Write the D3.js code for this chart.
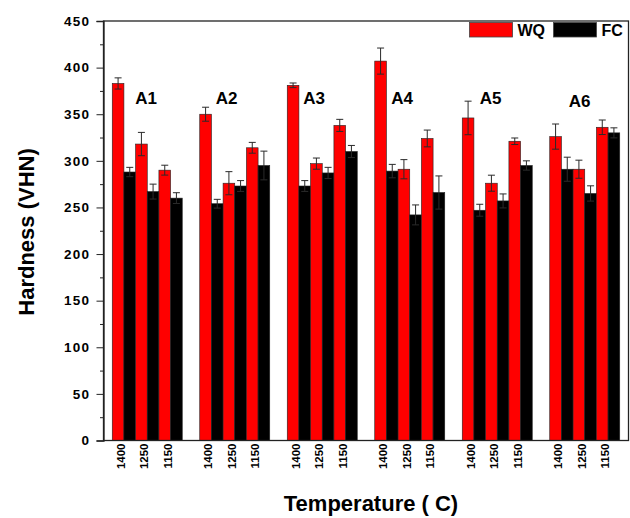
<!DOCTYPE html>
<html>
<head>
<meta charset="utf-8">
<script src="https://cdn.jsdelivr.net/npm/d3@7/dist/d3.min.js"></script>
<style>
  html, body { margin: 0; padding: 0; background: #fff; }
  svg { display: block; font-family: "Liberation Sans", Arial, sans-serif; }
</style>
</head>
<body>
<svg id="chart" width="630" height="518"></svg>
<script>
// ---------- data ----------
const groups = ["A1", "A2", "A3", "A4", "A5", "A6"];
const temps = ["1400", "1250", "1150"];
const series = ["WQ", "FC"];
const wqValues = [
  [383, 318, 290],
  [350, 276, 314],
  [381, 297, 338],
  [407, 291, 324],
  [346, 276, 321],
  [326, 291, 336]
];
const wqErrors = [
  [6, 12.5, 5.3],
  [7.5, 12.4, 5.8],
  [2.5, 6, 6.5],
  [14, 10.3, 9],
  [18, 8.6, 3.5],
  [13.5, 9.7, 7.8]
];
const fcValues = [
  [288, 267, 260],
  [254, 273, 295],
  [273, 287, 310],
  [289, 242, 266],
  [247, 257, 295],
  [291, 265, 330]
];
const fcErrors = [
  [5, 8, 5.8],
  [4.7, 5.8, 15.4],
  [5.8, 6, 6.5],
  [7.2, 10.7, 17.8],
  [6.4, 7.5, 5],
  [12.9, 8.2, 5.4]
];
const yTicks = [0, 50, 100, 150, 200, 250, 300, 350, 400, 450];
const colors = { WQ: "#ff0000", FC: "#000000" };

// ---------- layout ----------
const svg = d3.select("#chart");
const plot = { left: 103.5, top: 21, right: 628.5, bottom: 440.5 };
const labelDx = [23, 16, 16, 16.5, 17.5, 19];

const x0 = d3.scaleBand().domain(groups)
  .range([plot.left, plot.right]).paddingInner(0.2).paddingOuter(0.1);
const x1 = d3.scaleBand().domain(temps).range([0, x0.bandwidth()]).padding(0);
const x2 = d3.scaleBand().domain(series).range([0, x1.bandwidth()]).padding(0);
const y = d3.scaleLinear().domain([0, 450]).range([plot.bottom, plot.top]);

// flatten data
const bars = [];
groups.forEach((g, gi) => {
  temps.forEach((t, ti) => {
    bars.push({ g, t, s: "WQ", v: wqValues[gi][ti], e: wqErrors[gi][ti] });
    bars.push({ g, t, s: "FC", v: fcValues[gi][ti], e: fcErrors[gi][ti] });
  });
});
const bx = d => x0(d.g) + x1(d.t) + x2(d.s);

// bars
svg.append("g").selectAll("rect").data(bars).join("rect")
  .attr("x", bx)
  .attr("y", d => y(d.v))
  .attr("width", x2.bandwidth())
  .attr("height", d => y(0) - y(d.v))
  .attr("fill", d => colors[d.s])
  .attr("stroke", "#222")
  .attr("stroke-width", 0.6);

// error bars
const eg = svg.append("g").attr("stroke", "#2a2a2a").attr("stroke-width", 1).attr("fill", "none");
const capW = 3.5;
bars.forEach(d => {
  const cx = bx(d) + x2.bandwidth() / 2;
  eg.append("line").attr("x1", cx).attr("x2", cx).attr("y1", y(d.v + d.e)).attr("y2", y(d.v - d.e));
  eg.append("line").attr("x1", cx - capW).attr("x2", cx + capW).attr("y1", y(d.v + d.e)).attr("y2", y(d.v + d.e));
  eg.append("line").attr("x1", cx - capW).attr("x2", cx + capW).attr("y1", y(d.v - d.e)).attr("y2", y(d.v - d.e));
});

// frame
svg.append("rect")
  .attr("x", plot.left).attr("y", plot.top)
  .attr("width", plot.right - plot.left).attr("height", plot.bottom - plot.top)
  .attr("fill", "none").attr("stroke", "#222").attr("stroke-width", 1.3);

// y axis
const yMinor = d3.range(25, 450, 50);
svg.append("g").attr("transform", `translate(${plot.left},0)`)
  .call(d3.axisLeft(y).tickValues(yMinor).tickSize(3.5).tickFormat(""))
  .call(g => g.select(".domain").remove())
  .call(g => g.selectAll("line").attr("stroke", "#222"));
svg.append("g").attr("transform", `translate(${plot.left},0)`)
  .call(d3.axisLeft(y).tickValues(yTicks).tickSize(7).tickPadding(6.3))
  .call(g => g.select(".domain").attr("stroke", "#222").attr("stroke-width", 1.3))
  .call(g => g.selectAll("line").attr("stroke", "#222"))
  .call(g => g.selectAll("text")
    .attr("font-size", 13.5).attr("font-weight", "bold").attr("fill", "#000")
    .attr("letter-spacing", "1.2px")
    .attr("font-family", "Liberation Sans, Arial, sans-serif"));

// x tick labels per group
groups.forEach(g => {
  svg.append("g").attr("transform", `translate(${x0(g) - 3},${plot.bottom})`)
    .call(d3.axisBottom(x1).tickSize(0).tickPadding(0))
    .call(a => a.select(".domain").remove())
    .call(a => a.selectAll("text")
      .attr("transform", "rotate(-90)")
      .attr("x", -3).attr("y", 0).attr("dy", "0.35em")
      .attr("text-anchor", "end")
      .attr("font-size", 11.5).attr("font-weight", "bold").attr("fill", "#000")
      .attr("font-family", "Liberation Sans, Arial, sans-serif"));
});

// group labels
svg.append("g").selectAll("text").data(groups).join("text")
  .attr("x", (g, i) => x0(g) + labelDx[i])
  .attr("y", (g, i) => i === 5 ? 106.5 : 104)
  .attr("font-size", 17).attr("font-weight", "bold").attr("fill", "#000")
  .text(g => g);

// legend
const leg = svg.append("g");
const legItems = [
  { s: "WQ", x: 469.5, tx: 517.5 },
  { s: "FC", x: 553.5, tx: 601.5 }
];
legItems.forEach(it => {
  leg.append("rect").attr("x", it.x).attr("y", 22.5).attr("width", 43).attr("height", 14.5)
    .attr("fill", colors[it.s]).attr("stroke", "#444").attr("stroke-width", 0.8);
  leg.append("text").attr("x", it.tx).attr("y", 35.5)
    .attr("font-size", 16).attr("font-weight", "bold").attr("fill", "#000").text(it.s);
});

// axis titles
svg.append("text")
  .attr("x", 371).attr("y", 511).attr("text-anchor", "middle")
  .attr("font-size", 22).attr("font-weight", "bold").attr("fill", "#000")
  .text("Temperature ( C)");
svg.append("text")
  .attr("transform", "translate(34,232) rotate(-90)")
  .attr("text-anchor", "middle")
  .attr("font-size", 22).attr("font-weight", "bold").attr("fill", "#000")
  .text("Hardness (VHN)");
</script>
</body>
</html>
